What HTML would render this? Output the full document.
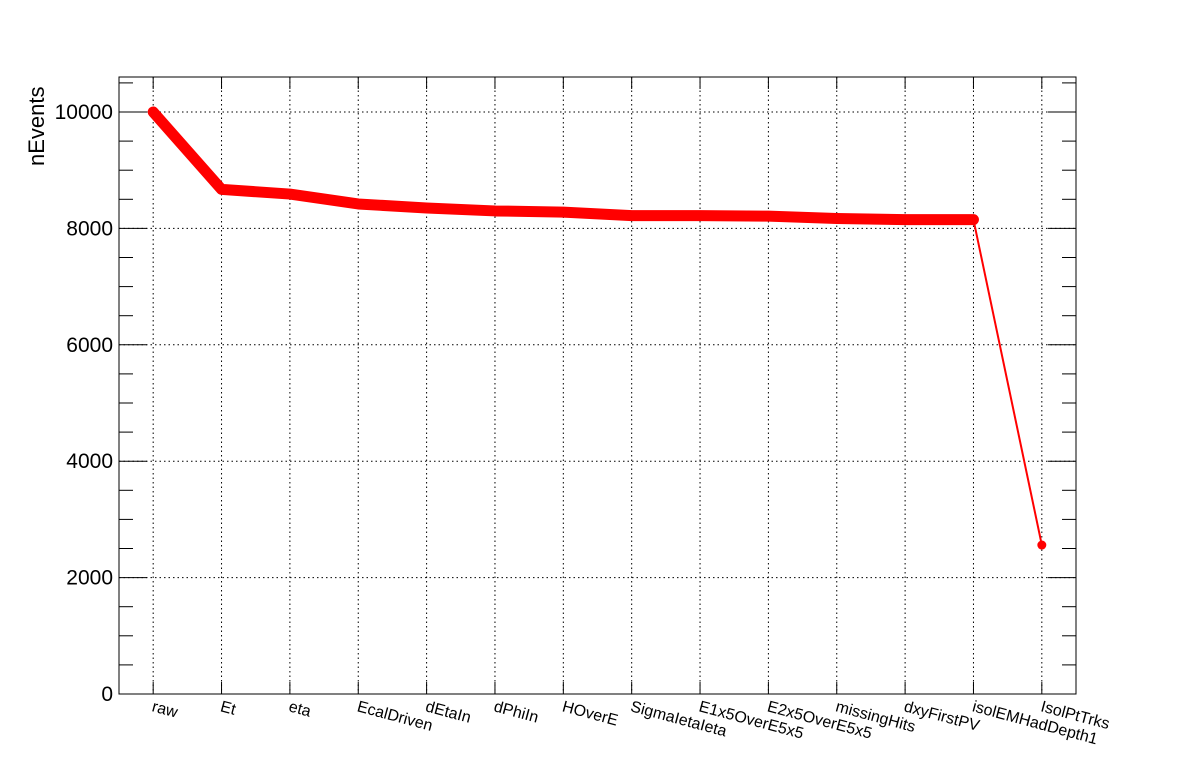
<!DOCTYPE html>
<html><head><meta charset="utf-8"><style>
body{margin:0;background:#fff;}
svg{display:block;font-family:"Liberation Sans",sans-serif;}
</style></head><body>
<svg id="c" width="1196" height="772"></svg>
<script>
const categories=["raw","Et","eta","EcalDriven","dEtaIn","dPhiIn","HOverE","SigmaIetaIeta","E1x5OverE5x5","E2x5OverE5x5","missingHits","dxyFirstPV","isolEMHadDepth1","IsolPtTrks"];
const values=[10000,8670,8590,8420,8350,8300,8280,8220,8220,8210,8170,8150,8150,2560];
const yTicks=[0,2000,4000,6000,8000,10000];
const NS="http://www.w3.org/2000/svg";
const svg=document.getElementById('c');
const L=119,R=1076,T=77,B=694;
const bw=(R-L)/categories.length;
const xs=i=>L+bw*(i+0.5);
const ys=v=>B-(v/10000)*(B-112);
function mk(t,a,p){const e=document.createElementNS(NS,t);for(const k in a)e.setAttribute(k,a[k]);(p||svg).appendChild(e);return e;}
categories.forEach((c,i)=>{
 const g=mk('line',{x1:xs(i),x2:xs(i),y1:T,y2:B,stroke:'#000','stroke-dasharray':'1.5,3','stroke-width':1});
 
 
 const t1=mk('line',{x1:xs(i),x2:xs(i),y1:B,y2:B-12,stroke:'#000'});
 
 
 const t2=mk('line',{x1:xs(i),x2:xs(i),y1:T,y2:T+12,stroke:'#000'});
 
 
 const tx=mk('text',{x:0,y:0,'font-size':16,transform:`translate(${xs(i)-2},${B+17}) rotate(15)`});
 tx.textContent=c;
 
 
});
yTicks.forEach(v=>{
 if(v>0){
  const g=mk('line',{x1:L,x2:R,y1:ys(v),y2:ys(v),stroke:'#000','stroke-dasharray':'1.5,3','stroke-width':1});
  
  
 }
 const t=mk('text',{x:113,y:ys(v)+7,'font-size':21,'text-anchor':'end'});
 t.textContent=v;
 
 
});
for(let v=0;v<=10500;v+=500){
 const y=ys(v); if(y<T)continue;
 const len=v%2000===0?28:14;
 const a=mk('line',{x1:L,x2:L+len,y1:y,y2:y,stroke:'#000'});
 
 
 const b=mk('line',{x1:R,x2:R-len,y1:y,y2:y,stroke:'#000'});
 
 
}
const fr=mk('rect',{x:L,y:T,width:R-L,height:B-T,fill:'none',stroke:'#000'});


const n=values.length;
const thick=values.slice(0,n-1).map((v,i)=>xs(i)+','+ys(v)).join(' ');
const p1=mk('polyline',{points:thick,fill:'none',stroke:'#f00','stroke-width':11,'stroke-linejoin':'round','stroke-linecap':'round'});


const p2=mk('line',{x1:xs(n-2),y1:ys(values[n-2]),x2:xs(n-1),y2:ys(values[n-1]),stroke:'#f00','stroke-width':2});


const m=mk('circle',{cx:xs(n-1),cy:ys(values[n-1]),r:4.5,fill:'#f00'});


const yt=mk('text',{x:0,y:0,'font-size':22,'text-anchor':'start',transform:'translate(44,166) rotate(-90)'});
yt.textContent='nEvents';


</script>
</body></html>
